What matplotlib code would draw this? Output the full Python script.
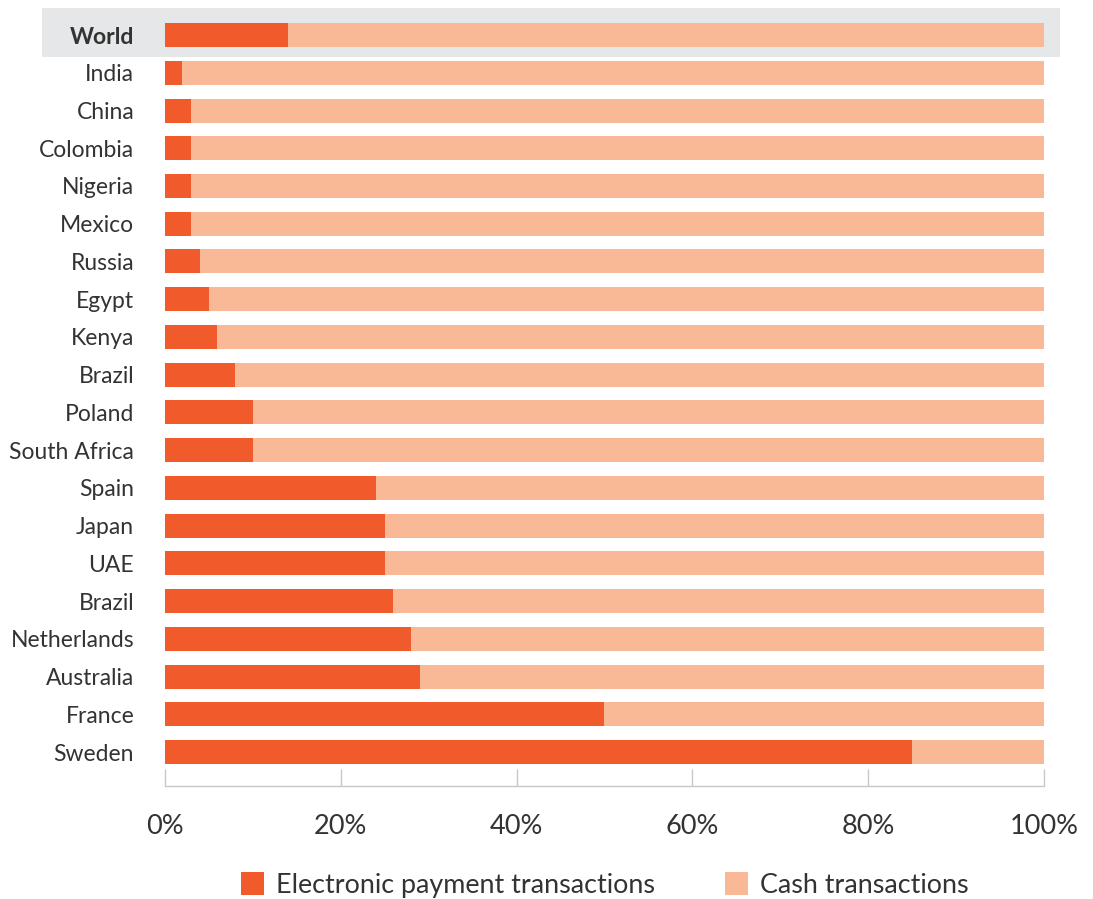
import matplotlib.pyplot as plt
from matplotlib.patches import Rectangle

countries = ["World", "India", "China", "Colombia", "Nigeria", "Mexico", "Russia",
             "Egypt", "Kenya", "Brazil", "Poland", "South Africa", "Spain", "Japan",
             "UAE", "Brazil", "Netherlands", "Australia", "France", "Sweden"]
electronic = [14, 2, 3, 3, 3, 3, 4, 5, 6, 8, 10, 10, 24, 25, 25, 26, 28, 29, 50, 85]
cash = [100 - e for e in electronic]
xticks = [0, 20, 40, 60, 80, 100]

dark = "#F15A2B"
light = "#F9B997"
grid_gray = "#C8C8C8"
text_col = "#333333"

plt.rcParams['font.family'] = ['Lato', 'DejaVu Sans']

fig = plt.figure(figsize=(10.93, 8.99), dpi=100)
ax = fig.add_axes([0.1507, 0.1257, 0.8047, 0.8647])
ax.set_facecolor('none')

# grey band behind the World row
fig.patches.append(Rectangle((42 / 1093, 1 - 57 / 899), (1060 - 42) / 1093, 49 / 899,
                             transform=fig.transFigure, facecolor="#E6E7E8",
                             edgecolor='none', zorder=-1))

y = list(range(len(countries)))
h = 0.636
ax.barh(y, electronic, height=h, color=dark, label="Electronic payment transactions")
ax.barh(y, cash, left=electronic, height=h, color=light, label="Cash transactions")

ax.set_xlim(0, 100)
ax.set_ylim(19.9, -0.7)

ax.set_yticks(y)
ax.set_yticklabels(countries, fontsize=16.5, color=text_col)
ax.get_yticklabels()[0].set_fontweight('bold')
ax.tick_params(axis='y', length=0, pad=22)

ax.set_xticks(xticks)
ax.set_xticklabels([f"{t}%" for t in xticks], fontsize=19.5, color=text_col)
ax.tick_params(axis='x', direction='in', length=12, color=grid_gray, width=1, pad=20)

for s in ['top', 'right', 'left']:
    ax.spines[s].set_visible(False)
ax.spines['bottom'].set_color(grid_gray)
ax.spines['bottom'].set_linewidth(1)

fig.legend(loc='center', bbox_to_anchor=(604.5 / 1093, 1 - 885 / 899), ncol=2,
           frameon=False, prop={'size': 19.4},
           handlelength=0.85, handleheight=0.9, handletextpad=0.45, columnspacing=2.6,
           labelcolor=text_col)

fig.savefig("out.png", dpi=100)
